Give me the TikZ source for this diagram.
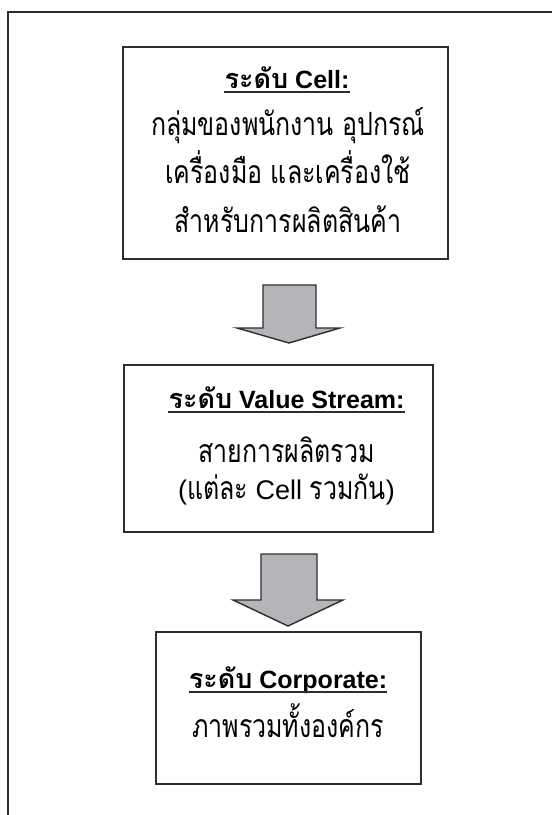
\documentclass[tikz,border=0pt]{standalone}
\usepackage{fontspec}
\setmainfont{Liberation Sans}
\newfontfamily\thaifont[Script=Thai,FakeStretch=0.78]{Loma}
\newfontfamily\thaititle[Script=Thai]{Loma}
\newcommand\tha[1]{{\thaifont #1}}
\newcommand\thb[1]{{\thaititle #1}}
\definecolor{boxline}{HTML}{2E2E2E}
\definecolor{arrowgray}{HTML}{B3B5B8}
\tikzset{
  box/.style={draw=boxline, line width=1.6pt, fill=white, inner sep=0pt},
  ttl/.style={inner sep=0pt, anchor=base, font=\fontsize{25}{30}\selectfont\bfseries},
  body/.style={inner sep=0pt, anchor=base, font=\fontsize{32}{36}\selectfont},
  blockarrow/.style={draw=boxline, line width=1.4pt, fill=arrowgray, line join=miter},
  uline/.style={draw=boxline, line width=1.5pt},
}
\begin{document}
\begin{tikzpicture}[x=1pt,y=-1pt]
\useasboundingbox (0,0) rectangle (552,815);
% outer frame (open at right and bottom)
\draw[draw=boxline, line width=1.6pt] (552,12) -- (8,12) -- (8,815);

% boxes
\node[box, minimum width=325pt, minimum height=212pt] (b1) at (285.5,153) {};
\node[box, minimum width=309pt, minimum height=167pt] (b2) at (278.5,448.5) {};
\node[box, minimum width=265pt, minimum height=152pt] (b3) at (288.5,708) {};

% box 1 text
\node[ttl] (t1) at (287,88) {\thb{\fontsize{27}{30}\selectfont ระดับ} Cell:};
\draw[uline] ([yshift=-4pt]t1.base west) -- ([yshift=-4pt]t1.base east);
\node[body] (l11) at (288,135) {\tha{กลุ่มของพนักงาน อุปกรณ์}};
\node[body] (l12) at (288,183) {\tha{เครื่องมือ และเครื่องใช้}};
\node[body] (l13) at (288,232) {\tha{สำหรับการผลิตสินค้า}};

% box 2 text
\node[ttl] (t2) at (286.5,408) {\thb{\fontsize{27}{30}\selectfont ระดับ} Value Stream:};
\draw[uline] ([yshift=-4pt]t2.base west) -- ([yshift=-4pt]t2.base east);
\node[body] (l21) at (286.5,462) {\tha{สายการผลิตรวม}};
\node[body, font=\fontsize{27}{30}\selectfont] (l22) at (286.5,499) {(\tha{\fontsize{32}{36}\selectfont แต่ละ} Cell \tha{\fontsize{32}{36}\selectfont รวมกัน})};

% box 3 text
\node[ttl] (t3) at (288,688) {\thb{\fontsize{27}{30}\selectfont ระดับ} Corporate:};
\draw[uline] ([yshift=-4pt]t3.base west) -- ([yshift=-4pt]t3.base east);
\node[body] (l31) at (288,737) {\tha{ภาพรวมทั้งองค์กร}};

% block arrows
\coordinate (a1) at (289.5,285);
\draw[blockarrow] (a1) ++(-26.5,0) -- ++(53,0) -- ++(0,43) -- ++(24,0)
  -- (289,343) -- (237,328) -- (263,328) -- cycle;
\coordinate (a2) at (289,554);
\draw[blockarrow] (a2) ++(-28,0) -- ++(56,0) -- ++(0,46) -- ++(26,0)
  -- (288,626) -- (233,600) -- (261,600) -- cycle;
\end{tikzpicture}
\end{document}
